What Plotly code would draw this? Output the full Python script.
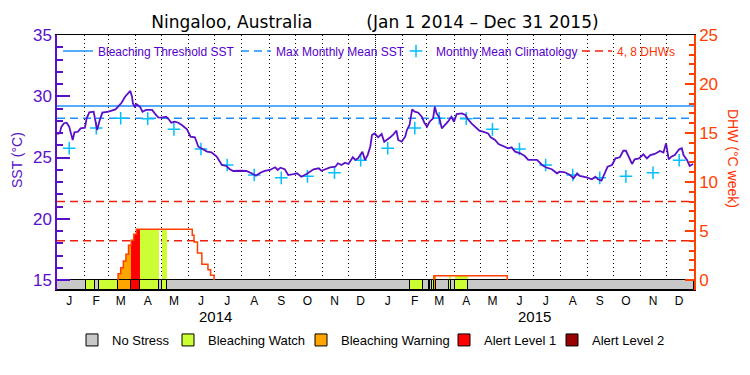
import pandas as pd
import plotly.graph_objects as go

# ---------------- data ----------------
PERIOD = ["2014-01-01", "2016-01-01"]

# daily SST: day offset from 2014-01-01 and value (deg C)
sst_day = [0, 3, 5, 8, 11, 14, 16, 18, 20, 24, 27, 32, 34, 37, 42, 44, 46, 49, 52, 59,
           67, 70, 74, 78, 82, 84, 86, 87, 89, 91, 95, 98, 102, 109, 112, 116, 120, 125, 128, 131,
           135, 139, 143, 149, 153, 158, 162, 167, 172, 177, 183, 189, 194, 198, 202, 210, 217, 223, 228, 233,
           238, 244, 250, 253, 256, 261, 265, 271, 275, 280, 286, 294, 300, 303, 309, 313, 319, 322, 326, 330,
           334, 339, 342, 345, 350, 353, 356, 359, 361, 364, 368, 372, 375, 378, 382, 385, 389, 391, 395, 399,
           401, 404, 407, 410, 414, 418, 421, 424, 427, 431, 433, 435, 438, 441, 445, 448, 452, 455, 458, 464,
           468, 471, 475, 479, 484, 489, 494, 497, 502, 506, 512, 517, 521, 525, 531, 536, 540, 550, 556, 560,
           567, 573, 576, 582, 588, 592, 596, 599, 607, 613, 617, 620, 624, 628, 631, 636, 640, 645, 649, 652,
           655, 659, 662, 667, 672, 676, 680, 685, 691, 695, 698, 701, 704, 708, 713, 716, 718, 722, 725, 729]
sst_val = [26.92, 26.97, 27.50, 27.80, 27.84, 27.50, 26.97, 26.43, 27.06, 27.10, 27.38, 27.43, 28.20, 28.69, 28.74, 27.92, 27.24, 28.06, 28.66, 28.74,
           28.93, 29.15, 29.47, 29.96, 30.32, 30.43, 29.96, 29.42, 29.15, 29.34, 29.15, 28.74, 28.88, 28.88, 28.60, 28.28, 28.25, 28.33, 28.12, 27.84,
           27.92, 27.84, 27.65, 27.30, 26.70, 26.65, 25.88, 25.67, 25.48, 25.42, 25.07, 24.39, 24.31, 24.04, 23.90, 23.92, 23.90, 23.71, 23.51, 23.76,
           23.90, 23.98, 24.20, 23.98, 24.17, 24.04, 23.57, 23.65, 23.71, 23.43, 23.65, 24.04, 24.12, 23.92, 24.06, 24.20, 24.25, 24.53, 24.39, 24.58,
           24.47, 25.02, 24.80, 24.93, 25.47, 24.80, 25.20, 25.88, 26.84, 26.97, 26.65, 26.92, 26.29, 26.43, 26.65, 26.84, 27.19, 26.43, 26.29, 26.70,
           27.24, 27.65, 28.93, 28.74, 28.66, 28.33, 27.84, 27.51, 27.92, 28.20, 29.15, 28.60, 28.28, 27.38, 27.65, 27.92, 28.33, 27.92, 28.55, 28.60,
           28.47, 28.12, 27.79, 27.51, 27.19, 27.10, 26.97, 26.65, 26.43, 26.10, 25.94, 25.75, 25.83, 25.48, 25.34, 25.12, 24.80, 24.80, 24.39, 24.20,
           24.04, 23.71, 23.84, 23.79, 23.57, 23.30, 23.71, 23.49, 23.38, 23.22, 23.43, 23.22, 23.11, 23.71, 24.25, 24.39, 24.93, 25.02, 25.55, 25.55,
           25.07, 24.47, 24.85, 24.93, 25.26, 24.93, 25.20, 25.29, 25.53, 25.40, 26.16, 24.85, 25.07, 25.20, 25.67, 25.75, 25.20, 24.80, 24.31, 24.47]

# monthly mean climatology (mid-month)
clim_dates = ["2014-01-15", "2014-02-15", "2014-03-15", "2014-04-15", "2014-05-15", "2014-06-15",
              "2014-07-15", "2014-08-15", "2014-09-15", "2014-10-15", "2014-11-15", "2014-12-15",
              "2015-01-15", "2015-02-15", "2015-03-15", "2015-04-15", "2015-05-15", "2015-06-15",
              "2015-07-15", "2015-08-15", "2015-09-15", "2015-10-15", "2015-11-15", "2015-12-15"]
clim_vals = [25.75, 27.40, 28.20, 28.17, 27.30, 25.70, 24.39, 23.57, 23.34, 23.46, 23.76, 24.77,
             25.75, 27.40, 28.20, 28.17, 27.30, 25.70, 24.39, 23.57, 23.34, 23.46, 23.76, 24.77]

MMM = 28.2
BLEACHING_THRESHOLD = 29.2
DHW_LEVELS = [4, 8]

# degree heating weeks (step values)
dhw_date = ["2014-03-12", "2014-03-12", "2014-03-15", "2014-03-18", "2014-03-21", "2014-03-24",
            "2014-03-27", "2014-03-30", "2014-04-02", "2014-06-05", "2014-06-07", "2014-06-11",
            "2014-06-16", "2014-06-23", "2014-06-26", "2014-06-30",
            "2015-03-09", "2015-03-09", "2015-06-01"]
dhw_val = [0, 0.65, 1.26, 1.94, 2.62, 3.54, 4.05, 4.66, 5.17, 4.56, 3.88, 2.76,
           1.60, 1.05, 0.48, 0,
           0, 0.44, 0]

# bleaching alert status (everything else is "No Stress")
status_start = ["2014-02-03", "2014-02-18", "2014-03-12", "2014-03-27", "2014-04-06", "2014-05-01",
                "2015-02-10", "2015-03-03", "2015-03-07", "2015-03-09", "2015-03-26", "2015-04-02"]
status_end = ["2014-02-13", "2014-03-12", "2014-03-27", "2014-04-06", "2014-04-28", "2014-05-07",
              "2015-02-24", "2015-03-05", "2015-03-09", "2015-03-11", "2015-03-29", "2015-04-17"]
status_level = ["Bleaching Watch", "Bleaching Watch", "Bleaching Warning", "Alert Level 1", "Bleaching Watch", "Bleaching Watch",
                "Bleaching Watch", "Bleaching Watch", "Bleaching Watch", "Bleaching Warning", "Bleaching Watch", "Bleaching Watch"]

status_names = ["No Stress", "Bleaching Watch", "Bleaching Warning", "Alert Level 1", "Alert Level 2"]
status_colors = ["#C8C8C8", "#CCFF33", "#FFA500", "#FF0000", "#990000"]

month_letters = ["J", "F", "M", "A", "M", "J", "J", "A", "S", "O", "N", "D",
                 "J", "F", "M", "A", "M", "J", "J", "A", "S", "O", "N", "D"]
year_labels = ["2014", "2015"]
year_mid = ["2014-07-02", "2015-07-02"]
year_boundaries = ["2015-01-01"]

# ---------------- styling ----------------
FONT = "Liberation Sans"
PURPLE = "#5A10C8"
ORANGE = "#FF4000"
BLUE = "#1E90FF"
CYAN = "#00BFFF"
DHW_RED = "#F02010"

SST_RANGE = [14.1837, 35]
DHW_RANGE = [-1.0204, 25]
PLOT_L, PLOT_W, PLOT_B, PLOT_H = 57, 637, 290, 255


def px_x(px):
    return (px - PLOT_L) / PLOT_W


def px_y(py):
    return (PLOT_B - py) / PLOT_H


color_of = dict(zip(status_names, status_colors))

fig = go.Figure()

# threshold lines / legend items (top legend row)
fig.add_trace(go.Scatter(x=PERIOD, y=[BLEACHING_THRESHOLD] * 2, mode="lines",
                         line=dict(color=BLUE, width=1.5), name="Bleaching Threshold SST",
                         legend="legend"))
fig.add_trace(go.Scatter(x=PERIOD, y=[MMM] * 2, mode="lines",
                         line=dict(color=BLUE, width=1.5, dash="8px,5px"), name="Max Monthly Mean SST",
                         legend="legend2"))
fig.add_trace(go.Scatter(x=pd.to_datetime(clim_dates), y=clim_vals, mode="markers",
                         marker=dict(symbol="cross-thin", size=9, line=dict(color=CYAN, width=1.5)),
                         name="Monthly Mean Climatology", legend="legend3"))
fig.add_trace(go.Scatter(x=[None], y=[None], mode="lines", yaxis="y2",
                         line=dict(color=DHW_RED, width=1.5, dash="8px,5px"),
                         name='<span style="color:#FF3300">4, 8 DHWs</span>', legend="legend4"))

# SST line
sst_dates = pd.Timestamp(PERIOD[0]) + pd.to_timedelta(sst_day, unit="D")
fig.add_trace(go.Scatter(x=sst_dates, y=sst_val, mode="lines",
                         line=dict(color=PURPLE, width=1.8), showlegend=False, hoverinfo="skip"))

# DHW fill coloured by alert status
st_s = pd.to_datetime(status_start)
st_e = pd.to_datetime(status_end)
dd = pd.to_datetime(dhw_date)
fill = {n: dict(x=[], w=[], y=[]) for n in status_names}
for i in range(len(dd) - 1):
    if dhw_val[i] <= 0 or dd[i + 1] <= dd[i]:
        continue
    for s, e, lv in zip(st_s, st_e, status_level):
        a, b = max(s, dd[i]), min(e, dd[i + 1])
        if b > a:
            fill[lv]["x"].append(a + (b - a) / 2)
            fill[lv]["w"].append((b - a).total_seconds() * 1000)
            fill[lv]["y"].append(dhw_val[i])
for n in status_names:
    if fill[n]["x"]:
        fig.add_trace(go.Bar(x=fill[n]["x"], y=fill[n]["y"], width=fill[n]["w"], base=0,
                             marker=dict(color=color_of[n], line=dict(width=0)),
                             yaxis="y2", showlegend=False, hoverinfo="skip"))

# DHW outline
lx, ly = [], []
for i, (d, v) in enumerate(zip(dd, dhw_val)):
    lx.append(d)
    ly.append(v)
    if v == 0 and i > 0 and dhw_val[i - 1] > 0:
        lx.append(None)
        ly.append(None)
fig.add_trace(go.Scatter(x=lx, y=ly, mode="lines", line=dict(color=ORANGE, width=1.5, shape="hv"),
                         yaxis="y2", showlegend=False, hoverinfo="skip", connectgaps=False))

# status bar (each category in its own bottom legend)
status_legends = ["legend5", "legend6", "legend7", "legend8", "legend9"]
p0, p1 = pd.Timestamp(PERIOD[0]), pd.Timestamp(PERIOD[1])
bar_h = -DHW_RANGE[0]
fig.add_trace(go.Bar(x=[p0 + (p1 - p0) / 2], y=[bar_h], base=DHW_RANGE[0],
                     width=[(p1 - p0).total_seconds() * 1000],
                     marker=dict(color=color_of["No Stress"], line=dict(color="black", width=1)),
                     name="No Stress", legend=status_legends[0], yaxis="y2", hoverinfo="skip"))
for n, lg in zip(status_names[1:], status_legends[1:]):
    xs, ws = [], []
    for s, e, lv in zip(st_s, st_e, status_level):
        if lv == n:
            xs.append(s + (e - s) / 2)
            ws.append((e - s).total_seconds() * 1000)
    fig.add_trace(go.Bar(x=xs if xs else [None], y=[bar_h] * len(xs) if xs else [None],
                         base=DHW_RANGE[0], width=ws if ws else None,
                         marker=dict(color=color_of[n], line=dict(color="black", width=1)),
                         name=n, legend=lg, yaxis="y2", hoverinfo="skip"))

# 4 and 8 DHW reference lines
for lv in DHW_LEVELS:
    fig.add_shape(type="line", xref="x", yref="y2", x0=PERIOD[0], x1=PERIOD[1], y0=lv, y1=lv,
                  line=dict(color=DHW_RED, width=1.5, dash="8px,5px"), layer="below")
for yb in year_boundaries:
    fig.add_shape(type="line", xref="x", yref="y2", x0=yb, x1=yb, y0=0, y1=DHW_RANGE[1],
                  line=dict(color="black", width=1, dash="1px,1px"), layer="below")

month_starts = pd.date_range(PERIOD[0], PERIOD[1], freq="MS")
month_mid = month_starts[:-1] + pd.Timedelta(days=14)

legend_common = dict(orientation="h", xanchor="left", yanchor="middle", bgcolor="rgba(0,0,0,0)",
                     borderwidth=0)
top_font = dict(family=FONT, size=12, color="#5500CC")
bot_font = dict(family=FONT, size=13, color="black")
top_origins = [58, 236, 396, 577]
bot_origins = [72, 168, 301, 444, 552]
legends = {}
for k, ox in zip(["legend", "legend2", "legend3", "legend4"], top_origins):
    legends[k] = dict(legend_common, x=px_x(ox), y=px_y(51), font=top_font)
for k, ox in zip(status_legends, bot_origins):
    legends[k] = dict(legend_common, x=px_x(ox), y=px_y(340), font=bot_font)

fig.update_layout(
    width=750, height=375,
    margin=dict(l=57, r=56, t=35, b=85, autoexpand=False),
    plot_bgcolor="white", paper_bgcolor="white",
    barmode="overlay", bargap=0,
    font=dict(family=FONT, size=12, color="black"),
    title=dict(text="Ningaloo, Australia" + "\u00a0" * 10 + "(Jan 1 2014 \u2013 Dec 31 2015)",
               x=0.5, xanchor="center", y=1 - 22 / 375, yanchor="middle",
               font=dict(family="DejaVu Sans", size=17, color="black")),
    showlegend=True,
    xaxis=dict(type="date", range=PERIOD, showline=True, mirror=True, linecolor="black", linewidth=1,
               showgrid=False, zeroline=False, tickmode="array", tickvals=month_mid, ticktext=month_letters,
               ticks="", tickfont=dict(size=12, color="black"), automargin=False,
               minor=dict(tickvals=month_starts, showgrid=True, gridcolor="black", gridwidth=1,
                          griddash="1px,3px", ticks="")),
    yaxis=dict(range=SST_RANGE, side="left", showline=True, linecolor=PURPLE, linewidth=1.5,
               showgrid=False, zeroline=False, tickmode="array", tickvals=[15, 20, 25, 30, 35],
               ticks="inside", ticklen=13, tickwidth=1.5, tickcolor=PURPLE,
               tickfont=dict(size=17, color=PURPLE), automargin=False,
               minor=dict(tickvals=list(range(16, 35)), ticks="inside", ticklen=6, tickwidth=1.5,
                          tickcolor=PURPLE, showgrid=False)),
    yaxis2=dict(range=DHW_RANGE, overlaying="y", side="right", showline=True, linecolor=ORANGE,
                linewidth=1.5, showgrid=False, zeroline=False, tickmode="array",
                tickvals=[0, 5, 10, 15, 20, 25], ticks="inside", ticklen=9, tickwidth=1.5,
                tickcolor=ORANGE, tickfont=dict(size=17, color=ORANGE), automargin=False,
                minor=dict(tickvals=list(range(1, 25)), ticks="inside", ticklen=5, tickwidth=1.5,
                           tickcolor=ORANGE, showgrid=False)),
    **legends,
)

for lab, xm in zip(year_labels, year_mid):
    fig.add_annotation(text=lab, x=xm, xref="x", y=px_y(316), yref="paper", showarrow=False,
                       font=dict(family=FONT, size=15, color="black"), xanchor="center", yanchor="middle")
fig.add_annotation(text="SST (\u00b0C)", x=px_x(17), xref="paper", y=px_y(160), yref="paper",
                   showarrow=False, textangle=-90, xanchor="center", yanchor="middle",
                   font=dict(family=FONT, size=14, color=PURPLE))
fig.add_annotation(text="DHW (\u00b0C week)", x=px_x(733), xref="paper", y=px_y(158), yref="paper",
                   showarrow=False, textangle=90, xanchor="center", yanchor="middle",
                   font=dict(family=FONT, size=14, color="#FF3300"))

fig.write_html("out.html", config={"displayModeBar": False},
               post_script="document.body.style.margin='0px';")
